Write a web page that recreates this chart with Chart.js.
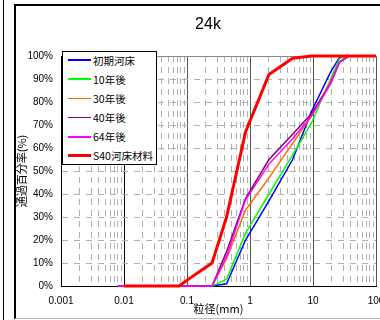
<!DOCTYPE html>
<html>
<head>
<meta charset="utf-8">
<title>24k</title>
<script src="https://cdn.jsdelivr.net/npm/chart.js@4.4.1/dist/chart.umd.min.js"></script>
<style>
    html, body { margin: 0; padding: 0; background: #fff; }
    #wrap { position: relative; width: 380px; height: 320px; overflow: hidden; }
    .edge { position: absolute; left: 3px; top: 0; width: 1px; height: 320px; background: #000; }
    .frame {
        position: absolute; left: 14px; top: 4px; width: 420px; height: 315px;
        box-sizing: border-box; border-left: 2px solid #000; border-top: 2px solid #000;
        border-bottom: 1px solid #bbb;
    }
    #chart { position: absolute; left: 0; top: 0; }
    #title {
        position: absolute; left: 0; top: 14px; width: 416px; text-align: center;
        font: 16px 'Liberation Sans', Arial, sans-serif; line-height: 20px; color: #000;
    }
    #legend {
        position: absolute; left: 62px; top: 51px; width: 95px; height: 114px;
        box-sizing: border-box; border: 1px solid #000; background: #fff;
        font: 10.5px 'Noto Sans CJK JP', sans-serif; color: #000; overflow: hidden;
    }
    #legend .row { display: flex; align-items: center; height: 19.2px; white-space: nowrap; }
    #legend .row:first-child { margin-top: -1.6px; }
    #legend .swatch { flex: none; width: 23px; margin-left: 5px; margin-right: 2px; }
</style>
</head>
<body>
<div id="wrap">
    <div class="edge"></div>
    <div class="frame"></div>
    <canvas id="chart" width="380" height="320"></canvas>
    <div id="title">24k</div>
    <div id="legend"></div>
</div>
<script>
// axis range and labels
const X_MIN = 0.001;
const X_MAX = 100;
const X_TICK_LABELS = ['0.001', '0.01', '0.1', '1', '10', '100'];
const Y_MIN = 0;
const Y_MAX = 100;
const Y_STEP = 10;

const SERIES_NAMES = ['初期河床', '10年後', '30年後', '40年後', '64年後', 'S40河床材料'];
const SERIES_COLORS = ['#0000ff', '#00ff00', '#ff6600', '#800080', '#ff00ff', '#ff0000'];

// grain size (mm) of the bed samples and passing percentage
const SIEVE_MM = [0.008, 0.25, 0.425, 0.85, 2, 4.75, 9.5, 19, 26.5, 37.5, 75];
const INITIAL = [0, 0, 1, 20, 37, 55, 76, 93, 99.5, 100, 100];
const YEAR_10 = [0, 0, 3, 23, 40, 57, 71, 90, 99, 100, 100];
const YEAR_30 = [0, 0, 12, 33, 47, 62, 74, 89, 97.5, 100, 100];
const YEAR_40 = [0, 0, 15, 38, 55, 66, 75, 88, 97.5, 100, 100];
const YEAR_64 = [0, 0, 13, 37.5, 53, 64, 74, 88, 97.5, 100, 100];

// S40 material
const S40_MM = [0.01, 0.075, 0.106, 0.25, 0.425, 0.85, 2, 4.75, 9.5, 19, 37.5, 100];
const S40 = [0, 0, 3, 10, 30, 67, 92, 99, 100, 100, 100, 100];

const TICK_FONT = { family: "'Liberation Sans', Arial, sans-serif", size: 10 };
const TITLE_FONT = { family: "'Noto Sans CJK JP', sans-serif", size: 11 };
const GRID_GRAY = '#b0b0b0';

function toPoints(sizes, values) {
    return sizes.map((x, i) => ({ x: x, y: values[i] }));
}

// 1..9 x 10^n between X_MIN and X_MAX
function logTicks() {
    const ticks = [];
    for (let e = Math.log10(X_MIN); e < Math.log10(X_MAX); e++) {
        for (let m = 1; m < 10; m++) {
            ticks.push({ value: parseFloat((m * Math.pow(10, e)).toPrecision(2)) });
        }
    }
    ticks.push({ value: X_MAX });
    return ticks;
}

function decadeTicks() {
    return X_TICK_LABELS.map(s => ({ value: parseFloat(s) }));
}

const seriesData = [
    toPoints(SIEVE_MM, INITIAL),
    toPoints(SIEVE_MM, YEAR_10),
    toPoints(SIEVE_MM, YEAR_30),
    toPoints(SIEVE_MM, YEAR_40),
    toPoints(SIEVE_MM, YEAR_64),
    toPoints(S40_MM, S40)
];

// draw order: red on top, then magenta ... blue at the bottom
const DRAW_ORDER = [5, 4, 3, 2, 1, 0];

const datasets = SERIES_NAMES.map((name, i) => ({
    label: name,
    data: seriesData[i],
    borderColor: SERIES_COLORS[i],
    backgroundColor: SERIES_COLORS[i],
    borderWidth: i === 5 ? 3 : 1.5,
    pointRadius: 0,
    tension: 0,
    fill: false,
    clip: false,
    order: DRAW_ORDER[i]
}));

// legend box inside the plot
const legend = document.getElementById('legend');
SERIES_NAMES.forEach((name, i) => {
    const row = document.createElement('div');
    row.className = 'row';
    const sw = document.createElement('div');
    sw.className = 'swatch';
    sw.style.height = (i === 5 ? 3 : 1.5) + 'px';
    sw.style.background = SERIES_COLORS[i];
    const label = document.createElement('span');
    label.textContent = name;
    row.appendChild(sw);
    row.appendChild(label);
    legend.appendChild(row);
});

new Chart(document.getElementById('chart'), {
    type: 'line',
    data: { datasets: datasets },
    options: {
        responsive: false,
        animation: false,
        layout: { padding: { left: 0, right: 4, top: 56, bottom: 0 } },
        plugins: {
            legend: { display: false },
            tooltip: { enabled: false }
        },
        scales: {
            x: {
                type: 'logarithmic',
                position: 'bottom',
                min: X_MIN,
                max: X_MAX,
                afterBuildTicks: axis => { axis.ticks = logTicks(); },
                afterFit: axis => { axis.height = 34; axis.paddingLeft = 0; axis.paddingRight = 0; },
                ticks: {
                    autoSkip: false,
                    maxRotation: 0,
                    padding: 9,
                    color: '#000',
                    font: TICK_FONT,
                    callback: (value, index) => index % 9 === 0 ? X_TICK_LABELS[index / 9] : ''
                },
                grid: {
                    drawTicks: false,
                    color: ctx => ctx.index % 9 === 0 ? 'rgba(0,0,0,0)' : GRID_GRAY,
                    lineWidth: 1
                },
                border: { display: true, color: '#000', width: 1, dash: [6, 5] },
                title: {
                    display: true,
                    text: '粒径(mm)',
                    color: '#000',
                    font: TITLE_FONT,
                    padding: { top: 0, bottom: 5 }
                }
            },
            // solid lines at every decade
            x2: {
                type: 'logarithmic',
                position: 'top',
                min: X_MIN,
                max: X_MAX,
                afterBuildTicks: axis => { axis.ticks = decadeTicks(); },
                afterFit: axis => { axis.height = 0; axis.paddingLeft = 0; axis.paddingRight = 0; },
                ticks: { display: false },
                grid: { drawTicks: false, color: ctx => ctx.index === 1 ? '#000' : '#555', lineWidth: 1 },
                border: { display: true, color: '#888', width: 1 }
            },
            y: {
                min: Y_MIN,
                max: Y_MAX,
                afterFit: axis => { axis.width = 61; },
                ticks: {
                    stepSize: Y_STEP,
                    padding: 8,
                    color: '#000',
                    font: TICK_FONT,
                    callback: v => v + '%'
                },
                grid: {
                    drawTicks: false,
                    color: ctx => (ctx.tick.value === Y_MIN || ctx.tick.value === Y_MAX) ? 'rgba(0,0,0,0)' : GRID_GRAY,
                    lineWidth: 1
                },
                border: { display: true, color: '#000', width: 1, dash: [6, 6] },
                title: {
                    display: true,
                    text: '通過百分率(%)',
                    color: '#000',
                    font: TITLE_FONT,
                    padding: { top: 15, bottom: 0 }
                }
            }
        }
    }
});
</script>
</body>
</html>
